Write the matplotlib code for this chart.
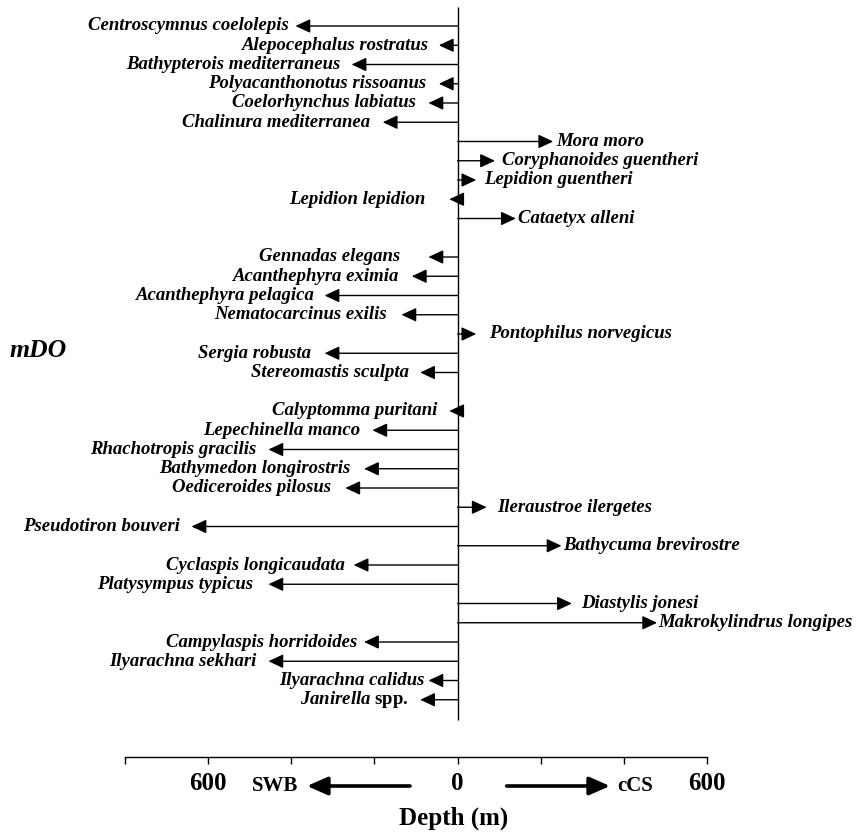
import matplotlib
matplotlib.use("Agg")
import matplotlib.pyplot as plt
import numpy as np

# ---------------- data ----------------
fish_species = ["Centroscymnus coelolepis", "Alepocephalus rostratus",
                "Bathypterois mediterraneus", "Polyacanthonotus rissoanus",
                "Coelorhynchus labiatus", "Chalinura mediterranea", "Mora moro",
                "Coryphanoides guentheri", "Lepidion guentheri",
                "Lepidion lepidion", "Cataetyx alleni"]
fish_shift = [-390, -45, -255, -45, -70, -180, 230, 90, 45, -20, 140]

decapod_species = ["Gennadas elegans", "Acanthephyra eximia",
                   "Acanthephyra pelagica", "Nematocarcinus exilis",
                   "Pontophilus norvegicus", "Sergia robusta",
                   "Stereomastis sculpta"]
decapod_shift = [-70, -110, -320, -135, 45, -320, -90]

peracarid_species = ["Calyptomma puritani", "Lepechinella manco",
                     "Rhachotropis gracilis", "Bathymedon longirostris",
                     "Oediceroides pilosus", "Ileraustroe ilergetes",
                     "Pseudotiron bouveri", "Bathycuma brevirostre",
                     "Cyclaspis longicaudata", "Platysympus typicus",
                     "Diastylis jonesi", "Makrokylindrus longipes",
                     "Campylaspis horridoides", "Ilyarachna sekhari",
                     "Ilyarachna calidus", r"$Janirella$ spp."]
peracarid_shift = [-20, -205, -455, -225, -270, 70, -640, 250, -250, -455,
                   275, 480, -225, -455, -70, -90]

x_ticks = [-800, -600, -400, -200, 0, 200, 400, 600]
x_ticklabels = ["", "600", "", "", "0", "", "", "600"]

# ---------------- layout ----------------
# gap (pixels) between arrow tip and its label
fish_gap = [7, 10, 11, 13, 13, 13, 3, 7, 8, 24, 2]
decapod_gap = [28, 12, 10, 15, 13, 14, 11]
peracarid_gap = [12, 12, 12, 14, 14, 11, 12, 2, 9, 15, 9, 1, 7, 12, 4, 12]

plt.rcParams['mathtext.fontset'] = 'custom'
plt.rcParams['mathtext.it'] = 'Liberation Serif:italic:bold'
plt.rcParams['mathtext.rm'] = 'Liberation Serif:bold'
plt.rcParams['mathtext.bf'] = 'Liberation Serif:bold'

W, H = 861, 833
fig = plt.figure(figsize=(W / 100, H / 100), dpi=100)
ax = fig.add_axes([125 / W, 1 - 757 / H, 582 / W, 757 / H])

groups = [(fish_species, fish_shift, fish_gap),
          (decapod_species, decapod_shift, decapod_gap),
          (peracarid_species, peracarid_shift, peracarid_gap)]

row = 0
for names, shifts, gaps in groups:
    for name, val, gap in zip(names, shifts, gaps):
        ax.annotate("", xy=(val, row), xytext=(0, row),
                    arrowprops=dict(arrowstyle="-|>,head_length=0.9,head_width=0.42",
                                    lw=1.0, color="black", shrinkA=0, shrinkB=0,
                                    mutation_scale=10))
        off = gap * 0.72
        if val < 0:
            ax.annotate(name, xy=(val, row), xytext=(-off, 0),
                        textcoords="offset points", ha="right", va="center",
                        family="Liberation Serif", weight="bold",
                        style="normal" if name.startswith("$") else "italic",
                        fontsize=13.5)
        else:
            ax.annotate(name, xy=(val, row), xytext=(off, 0),
                        textcoords="offset points", ha="left", va="center",
                        family="Liberation Serif", weight="bold", style="italic",
                        fontsize=13.5)
        row += 1
    row += 1

ax.vlines(0, -0.99, 36.05, color="black", lw=1.0)

ax.set_xlim(-800, 600)
ax.set_ylim(37.974, -1.3506)
ax.set_xticks(x_ticks)
ax.set_xticklabels(x_ticklabels, family="Liberation Serif", weight="bold",
                   fontsize=18)
ax.set_yticks([])
for s in ["left", "right", "top"]:
    ax.spines[s].set_visible(False)
ax.spines["bottom"].set_linewidth(1.0)
ax.tick_params(axis="x", direction="out", length=5, width=1, pad=6)

# SWB / cCS direction arrows
yf = 1 - 786 / H
ax.annotate("", xy=(0.3127, yf), xytext=(0.4897, yf),
            xycoords=("axes fraction", "figure fraction"),
            arrowprops=dict(arrowstyle="-|>,head_length=1.25,head_width=0.55",
                            lw=2.6, color="black", shrinkA=0, shrinkB=0,
                            mutation_scale=10))
ax.annotate("", xy=(0.8333, yf), xytext=(0.6558, yf),
            xycoords=("axes fraction", "figure fraction"),
            arrowprops=dict(arrowstyle="-|>,head_length=1.25,head_width=0.55",
                            lw=2.6, color="black", shrinkA=0, shrinkB=0,
                            mutation_scale=10))
ax.annotate("SWB", xy=(0.2973, yf), xycoords=("axes fraction", "figure fraction"),
            ha="right", va="center", family="Liberation Serif", weight="bold",
            fontsize=15)
ax.annotate("cCS", xy=(0.8454, yf), xycoords=("axes fraction", "figure fraction"),
            ha="left", va="center", family="Liberation Serif", weight="bold",
            fontsize=15)

fig.text(454 / W, 1 - 818 / H, "Depth (m)", ha="center", va="center",
         family="Liberation Serif", weight="bold", fontsize=18)
fig.text(38 / W, 1 - 350 / H, "mDO", ha="center", va="center",
         family="Liberation Serif", weight="bold", style="italic", fontsize=18.5)

fig.savefig("out.png", dpi=100, facecolor="white")
